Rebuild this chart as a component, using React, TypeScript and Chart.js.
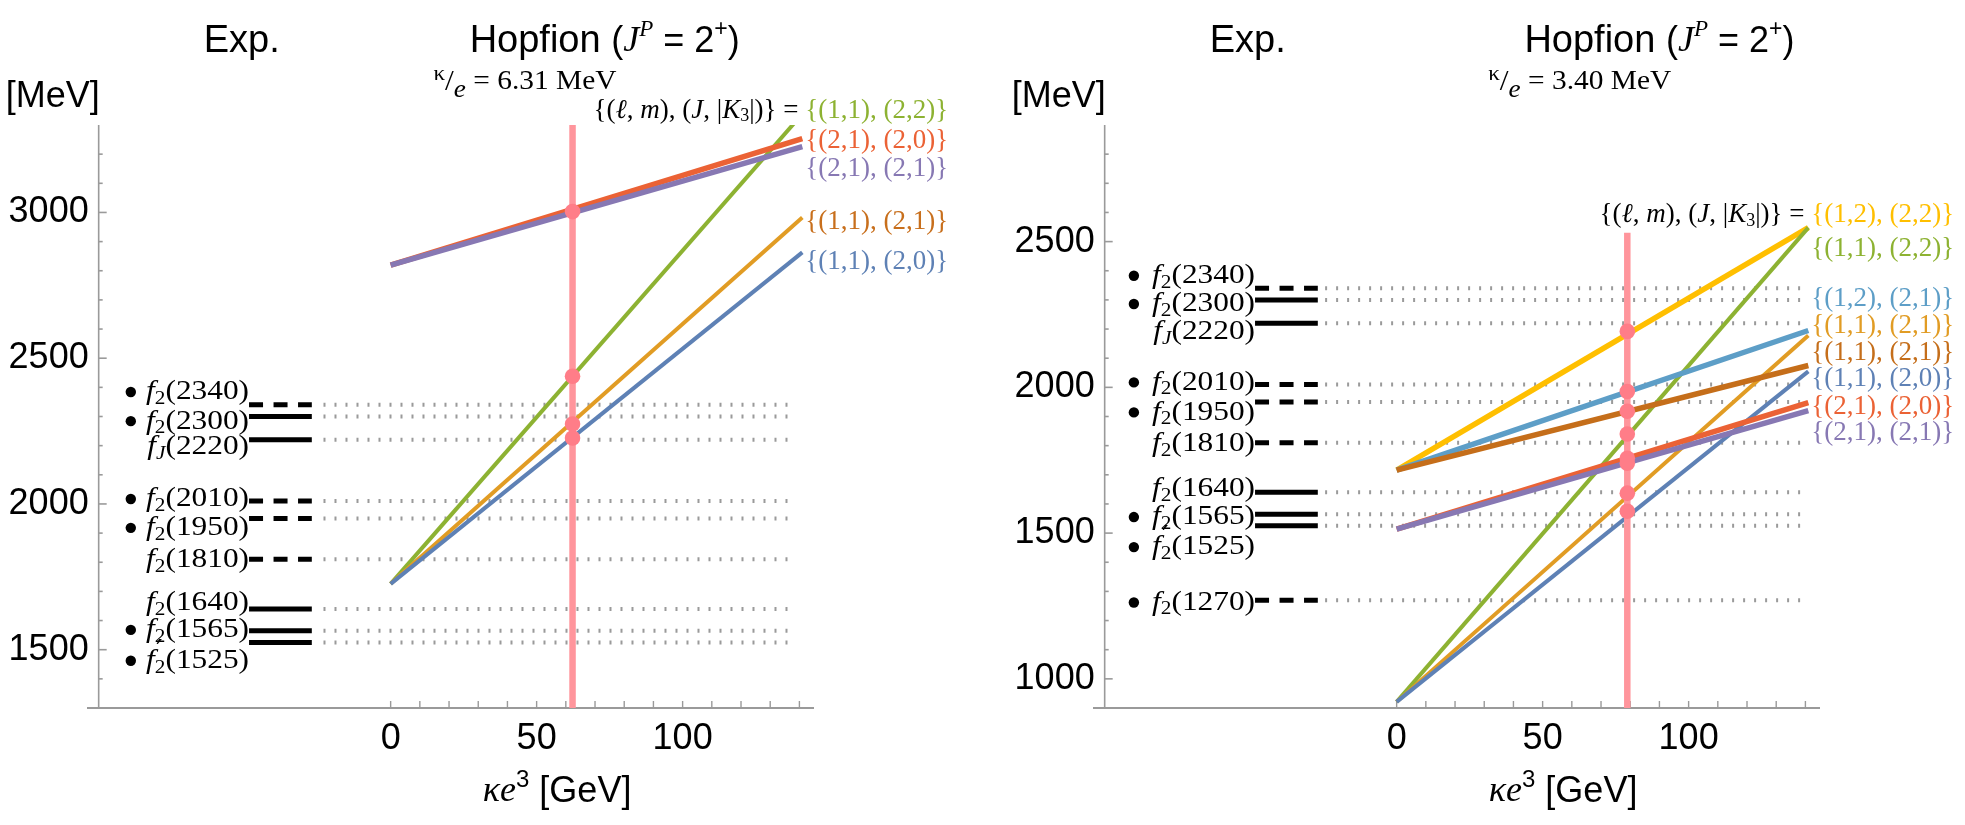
import React, { useEffect, useRef } from "react";
import { Chart, registerables } from "chart.js";

Chart.register(...registerables);

const SANS = '"Liberation Sans", Arial, sans-serif';
const SERIF = '"Liberation Serif", "DejaVu Serif", serif';

// ---- shared x axis (κe³ in GeV) ----
const xTicks = [0, 50, 100];
const xMinorStep = 10;
const xLineEnd = 141;

// ---- left panel: κ/e = 6.31 MeV ----
const leftYTicks = [1500, 2000, 2500, 3000];
const leftLevels = [2340, 2300, 2220, 2010, 1950, 1810, 1640, 1565, 1525];
const leftLevelDashed = [true, false, false, true, true, true, false, false, false];
const leftLevelBullet = [true, true, false, true, true, false, false, true, true];
const leftLevelLabelY = [2384, 2284, 2195, 2017, 1918, 1808, 1661, 1568, 1462];
const leftLevelSub = ["2", "2", "J", "2", "2", "2", "2", "2", "2"];
const leftLevelPrime = [false, false, false, false, false, false, false, false, true];

const leftSeriesNames = ["{(1,1), (2,2)}", "{(2,1), (2,0)}", "{(2,1), (2,1)}", "{(1,1), (2,1)}", "{(1,1), (2,0)}"];
const leftSeriesColors = ["#8db232", "#eb6235", "#8778b3", "#e19c24", "#5e81b5"];
const leftLabelColors = ["#8db232", "#eb6235", "#8778b3", "#c86f1c", "#5e81b5"];
const leftSeriesStart = [1726, 2819, 2819, 1726, 1726];
const leftSeriesEnd = [3338, 3253, 3226, 2983, 2863];
const leftSeriesWidth = [4, 5.5, 5.5, 4, 4];
const leftSeriesLabelY = [3349, 3247, 3151, 2969, 2829];
const leftDots = [3003, 2438, 2274, 2226];

// ---- right panel: κ/e = 3.40 MeV ----
const rightYTicks = [1000, 1500, 2000, 2500];
const rightLevels = [2340, 2300, 2220, 2010, 1950, 1810, 1640, 1565, 1525, 1270];
const rightLevelDashed = [true, false, false, true, true, true, false, false, false, true];
const rightLevelBullet = [true, true, false, true, true, false, false, true, true, true];
const rightLevelLabelY = [2383, 2286, 2190, 2017, 1914, 1807, 1652, 1555, 1452, 1262];
const rightLevelSub = ["2", "2", "J", "2", "2", "2", "2", "2", "2", "2"];
const rightLevelPrime = [false, false, false, false, false, false, false, false, true, false];

const rightSeriesNames = [
  "{(1,2), (2,2)}", "{(1,1), (2,2)}", "{(1,2), (2,1)}", "{(1,1), (2,1)}",
  "{(1,1), (2,1)}", "{(1,1), (2,0)}", "{(2,1), (2,0)}", "{(2,1), (2,1)}",
];
const rightSeriesColors = ["#ffbf00", "#8db232", "#5d9ec7", "#e19c24", "#c56e1a", "#5e81b5", "#eb6235", "#8778b3"];
const rightSeriesStart = [1716, 921, 1716, 921, 1716, 921, 1514, 1514];
const rightSeriesEnd = [2548, 2548, 2195, 2178, 2075, 2055, 1948, 1920];
const rightSeriesWidth = [5.5, 4, 5.5, 4, 5.5, 4, 5.5, 5.5];
const rightSeriesLabelY = [2590, 2476, 2303, 2210, 2117, 2028, 1934, 1845];
const rightDots = [2192, 1986, 1918, 1840, 1757, 1740, 1637, 1575];

type Seg = { t: string; f: string; dy?: number; dx?: number; c?: string; na?: boolean };

function drawRich(
  ctx: CanvasRenderingContext2D, segs: Seg[], x: number, y: number,
  align: string, color = "#000", sx = 1
) {
  let w = 0;
  for (const s of segs) {
    ctx.font = s.f;
    if (!s.na) w += ctx.measureText(s.t).width;
  }
  w *= sx;
  const x0 = align === "right" ? x - w : align === "center" ? x - w / 2 : x;
  ctx.save();
  ctx.translate(x0, y);
  ctx.scale(sx, 1);
  ctx.textAlign = "left";
  ctx.textBaseline = "middle";
  let cx = 0;
  for (const s of segs) {
    ctx.font = s.f;
    ctx.fillStyle = s.c || color;
    ctx.fillText(s.t, cx + (s.dx || 0), s.dy || 0);
    if (!s.na) cx += ctx.measureText(s.t).width;
  }
  ctx.restore();
}

function levelSegs(mass: number, sub: string, prime: boolean): Seg[] {
  const segs: Seg[] = [{ t: "f", f: `italic 28px ${SERIF}` }];
  if (prime) segs.push({ t: "′", f: `26px "DejaVu Sans", sans-serif`, dy: -9, dx: 1, na: true });
  segs.push({ t: sub, f: `${sub === "J" ? "italic " : ""}19px ${SERIF}`, dy: 7 });
  segs.push({ t: `(${mass})`, f: `28px ${SERIF}` });
  return segs;
}

interface Panel {
  width: number;
  yMin: number;
  yMax: number;
  yTicks: number[];
  levels: number[];
  dashed: boolean[];
  bullet: boolean[];
  labelY: number[];
  sub: string[];
  prime: boolean[];
  bulletX: number;
  dotFrom: number;
  names: string[];
  colors: string[];
  labelColors: string[];
  starts: number[];
  ends: number[];
  widths: number[];
  seriesLabelY: number[];
  dots: number[];
  pinkX: number;
  pinkTop: number;
  kappa: string;
}

const leftPanel: Panel = {
  width: 1006, yMin: 1300, yMax: 3300, yTicks: leftYTicks,
  levels: leftLevels, dashed: leftLevelDashed, bullet: leftLevelBullet, labelY: leftLevelLabelY,
  sub: leftLevelSub, prime: leftLevelPrime, bulletX: -89, dotFrom: -23,
  names: leftSeriesNames, colors: leftSeriesColors, labelColors: leftLabelColors,
  starts: leftSeriesStart, ends: leftSeriesEnd, widths: leftSeriesWidth, seriesLabelY: leftSeriesLabelY,
  dots: leftDots, pinkX: 62.3, pinkTop: 3300, kappa: "6.31",
};

const rightPanel: Panel = {
  width: 959, yMin: 900, yMax: 2900, yTicks: rightYTicks,
  levels: rightLevels, dashed: rightLevelDashed, bullet: rightLevelBullet, labelY: rightLevelLabelY,
  sub: rightLevelSub, prime: rightLevelPrime, bulletX: -90, dotFrom: -24.5,
  names: rightSeriesNames, colors: rightSeriesColors, labelColors: rightSeriesColors,
  starts: rightSeriesStart, ends: rightSeriesEnd, widths: rightSeriesWidth, seriesLabelY: rightSeriesLabelY,
  dots: rightDots, pinkX: 79, pinkTop: 2530, kappa: "3.40",
};

function overlay(p: Panel) {
  return {
    id: "overlay",
    beforeDatasetsDraw(chart: any) {
      const ctx: CanvasRenderingContext2D = chart.ctx;
      const xs = (v: number) => chart.scales.x.getPixelForValue(v);
      const ys = (v: number) => chart.scales.y.getPixelForValue(v);
      ctx.save();
      ctx.strokeStyle = "#9a9a9a";
      // y axis
      ctx.lineWidth = 1.6;
      const ax = xs(-100);
      ctx.beginPath();
      ctx.moveTo(ax, ys(p.yMin));
      ctx.lineTo(ax, ys(p.yMax));
      ctx.stroke();
      for (let v = p.yMin + 100; v < p.yMax; v += 100) {
        const len = v % 500 === 0 ? 8 : 4;
        ctx.beginPath();
        ctx.moveTo(ax, ys(v));
        ctx.lineTo(ax + len, ys(v));
        ctx.stroke();
      }
      // x axis
      ctx.lineWidth = 2;
      const by = ys(p.yMin);
      ctx.beginPath();
      ctx.moveTo(chart.chartArea.left, by);
      ctx.lineTo(chart.chartArea.right, by);
      ctx.stroke();
      ctx.lineWidth = 1.4;
      for (let v = 0; v <= 140; v += xMinorStep) {
        ctx.beginPath();
        ctx.moveTo(xs(v), by);
        ctx.lineTo(xs(v), by - 7);
        ctx.stroke();
      }
      ctx.restore();
    },
    afterDatasetsDraw(chart: any) {
      const ctx: CanvasRenderingContext2D = chart.ctx;
      const xs = (v: number) => chart.scales.x.getPixelForValue(v);
      const ys = (v: number) => chart.scales.y.getPixelForValue(v);
      ctx.save();
      // tick labels
      for (const v of p.yTicks) {
        drawRich(ctx, [{ t: String(v), f: `36px ${SANS}` }], xs(-100) - 10, ys(v), "right");
      }
      const by = ys(p.yMin);
      for (const v of xTicks) {
        drawRich(ctx, [{ t: String(v), f: `36px ${SANS}` }], xs(v), by + 31, "center");
      }
      drawRich(ctx, [
        { t: "κe", f: `italic 36px ${SERIF}` },
        { t: "3", f: `24px ${SANS}`, dy: -12 },
        { t: " [GeV]", f: `36px ${SANS}` },
      ], xs(57), by + 84, "center");
      drawRich(ctx, [{ t: "[MeV]", f: `36px ${SANS}` }], xs(-100) - 46, 97, "center");
      drawRich(ctx, [{ t: "Exp.", f: `38px ${SANS}` }], xs(-51), 42, "center");
      drawRich(ctx, [
        { t: "Hopfion ", f: `38px ${SANS}` },
        { t: "(", f: `36px ${SANS}` },
        { t: "J", f: `italic 36px ${SERIF}` },
        { t: "P", f: `italic 23px ${SERIF}`, dy: -12 },
        { t: " = 2", f: `36px ${SANS}` },
        { t: "+", f: `23px ${SANS}`, dy: -12 },
        { t: ")", f: `36px ${SANS}` },
      ], xs(p.pinkX + 11), 42, "center");
      drawRich(ctx, [
        { t: "κ", f: `22px ${SERIF}`, dy: -8 },
        { t: "/", f: `30px ${SERIF}` },
        { t: "e", f: `italic 26px ${SERIF}`, dy: 8 },
        { t: " = " + p.kappa + " MeV", f: `28px ${SERIF}` },
      ], xs(p.pinkX - 16.3), 82, "center", "#000", 1.05);
      // experimental level names
      p.levels.forEach((m, i) => {
        drawRich(ctx, levelSegs(m, p.sub[i], p.prime[i]), xs(-48.5), ys(p.labelY[i]), "right", "#000", 1.12);
      });
      // series labels
      const R = `27px ${SERIF}`;
      const I = `italic 27px ${SERIF}`;
      drawRich(ctx, [
        { t: "{(", f: R }, { t: "ℓ", f: I }, { t: ", ", f: R }, { t: "m", f: I },
        { t: "), (", f: R }, { t: "J", f: I }, { t: ", |", f: R }, { t: "K", f: I },
        { t: "3", f: `18px ${SERIF}`, dy: 6 }, { t: "|)} = ", f: R },
      ], xs(142), ys(p.seriesLabelY[0]), "right");
      p.names.forEach((n, i) => {
        drawRich(ctx, [{ t: n, f: R }], xs(142), ys(p.seriesLabelY[i]), "left", p.labelColors[i]);
      });
      ctx.restore();
    },
  };
}

function makeConfig(p: Panel): any {
  const datasets: any[] = [];
  p.levels.forEach((m) => {
    datasets.push({
      data: [{ x: p.dotFrom, y: m }, { x: 139, y: m }],
      showLine: true, borderColor: "#9a9a9a", borderWidth: 4, borderDash: [2, 9],
      pointRadius: 0, order: 6,
    });
  });
  p.levels.forEach((m, i) => {
    datasets.push({
      data: [{ x: -48.5, y: m }, { x: -27, y: m }],
      showLine: true, borderColor: "#000", borderWidth: 5,
      borderDash: p.dashed[i] ? [14, 10.5] : [], pointRadius: 0, order: 5,
    });
  });
  datasets.push({
    data: p.labelY.filter((_, i) => p.bullet[i]).map((y) => ({ x: p.bulletX, y })),
    pointRadius: 5.2, pointBackgroundColor: "#000", pointBorderWidth: 0, order: 5,
  });
  p.starts.forEach((s, i) => {
    datasets.push({
      data: [{ x: 0, y: s }, { x: xLineEnd, y: p.ends[i] }],
      showLine: true, borderColor: p.colors[i], borderWidth: p.widths[i],
      pointRadius: 0, order: 3 + (p.names.length - i) * 0.01, clip: 0,
    });
  });
  datasets.push({
    data: [{ x: p.pinkX, y: p.yMin - 6 }, { x: p.pinkX, y: p.pinkTop }],
    showLine: true, borderColor: "#ff959c", borderWidth: 6.5, pointRadius: 0, order: 2,
  });
  datasets.push({
    data: p.dots.map((y) => ({ x: p.pinkX, y })),
    pointRadius: 7.8, pointBackgroundColor: "#ff7d88", pointBorderWidth: 0, order: 1,
  });
  return {
    type: "scatter",
    data: { datasets },
    options: {
      animation: false,
      responsive: false,
      layout: { padding: { left: 87, right: p.width - 814, top: 125, bottom: 117 } },
      plugins: { legend: { display: false }, tooltip: { enabled: false } },
      scales: {
        x: { type: "linear", min: -104, max: 145, display: false },
        y: { type: "linear", min: p.yMin, max: p.yMax, display: false },
      },
    },
    plugins: [overlay(p)],
  };
}

function PanelChart({ panel }: { panel: Panel }) {
  const ref = useRef<HTMLCanvasElement>(null);
  useEffect(() => {
    if (!ref.current) return;
    const chart = new Chart(ref.current, makeConfig(panel));
    return () => chart.destroy();
  }, [panel]);
  return (
    <canvas
      ref={ref}
      width={panel.width}
      height={825}
      style={{ width: panel.width, height: 825, display: "block" }}
    />
  );
}

export default function App() {
  return (
    <div style={{ position: "absolute", left: 0, top: 0, width: 1965, height: 825, display: "flex", background: "#fff" }}>
      <PanelChart panel={leftPanel} />
      <PanelChart panel={rightPanel} />
    </div>
  );
}
